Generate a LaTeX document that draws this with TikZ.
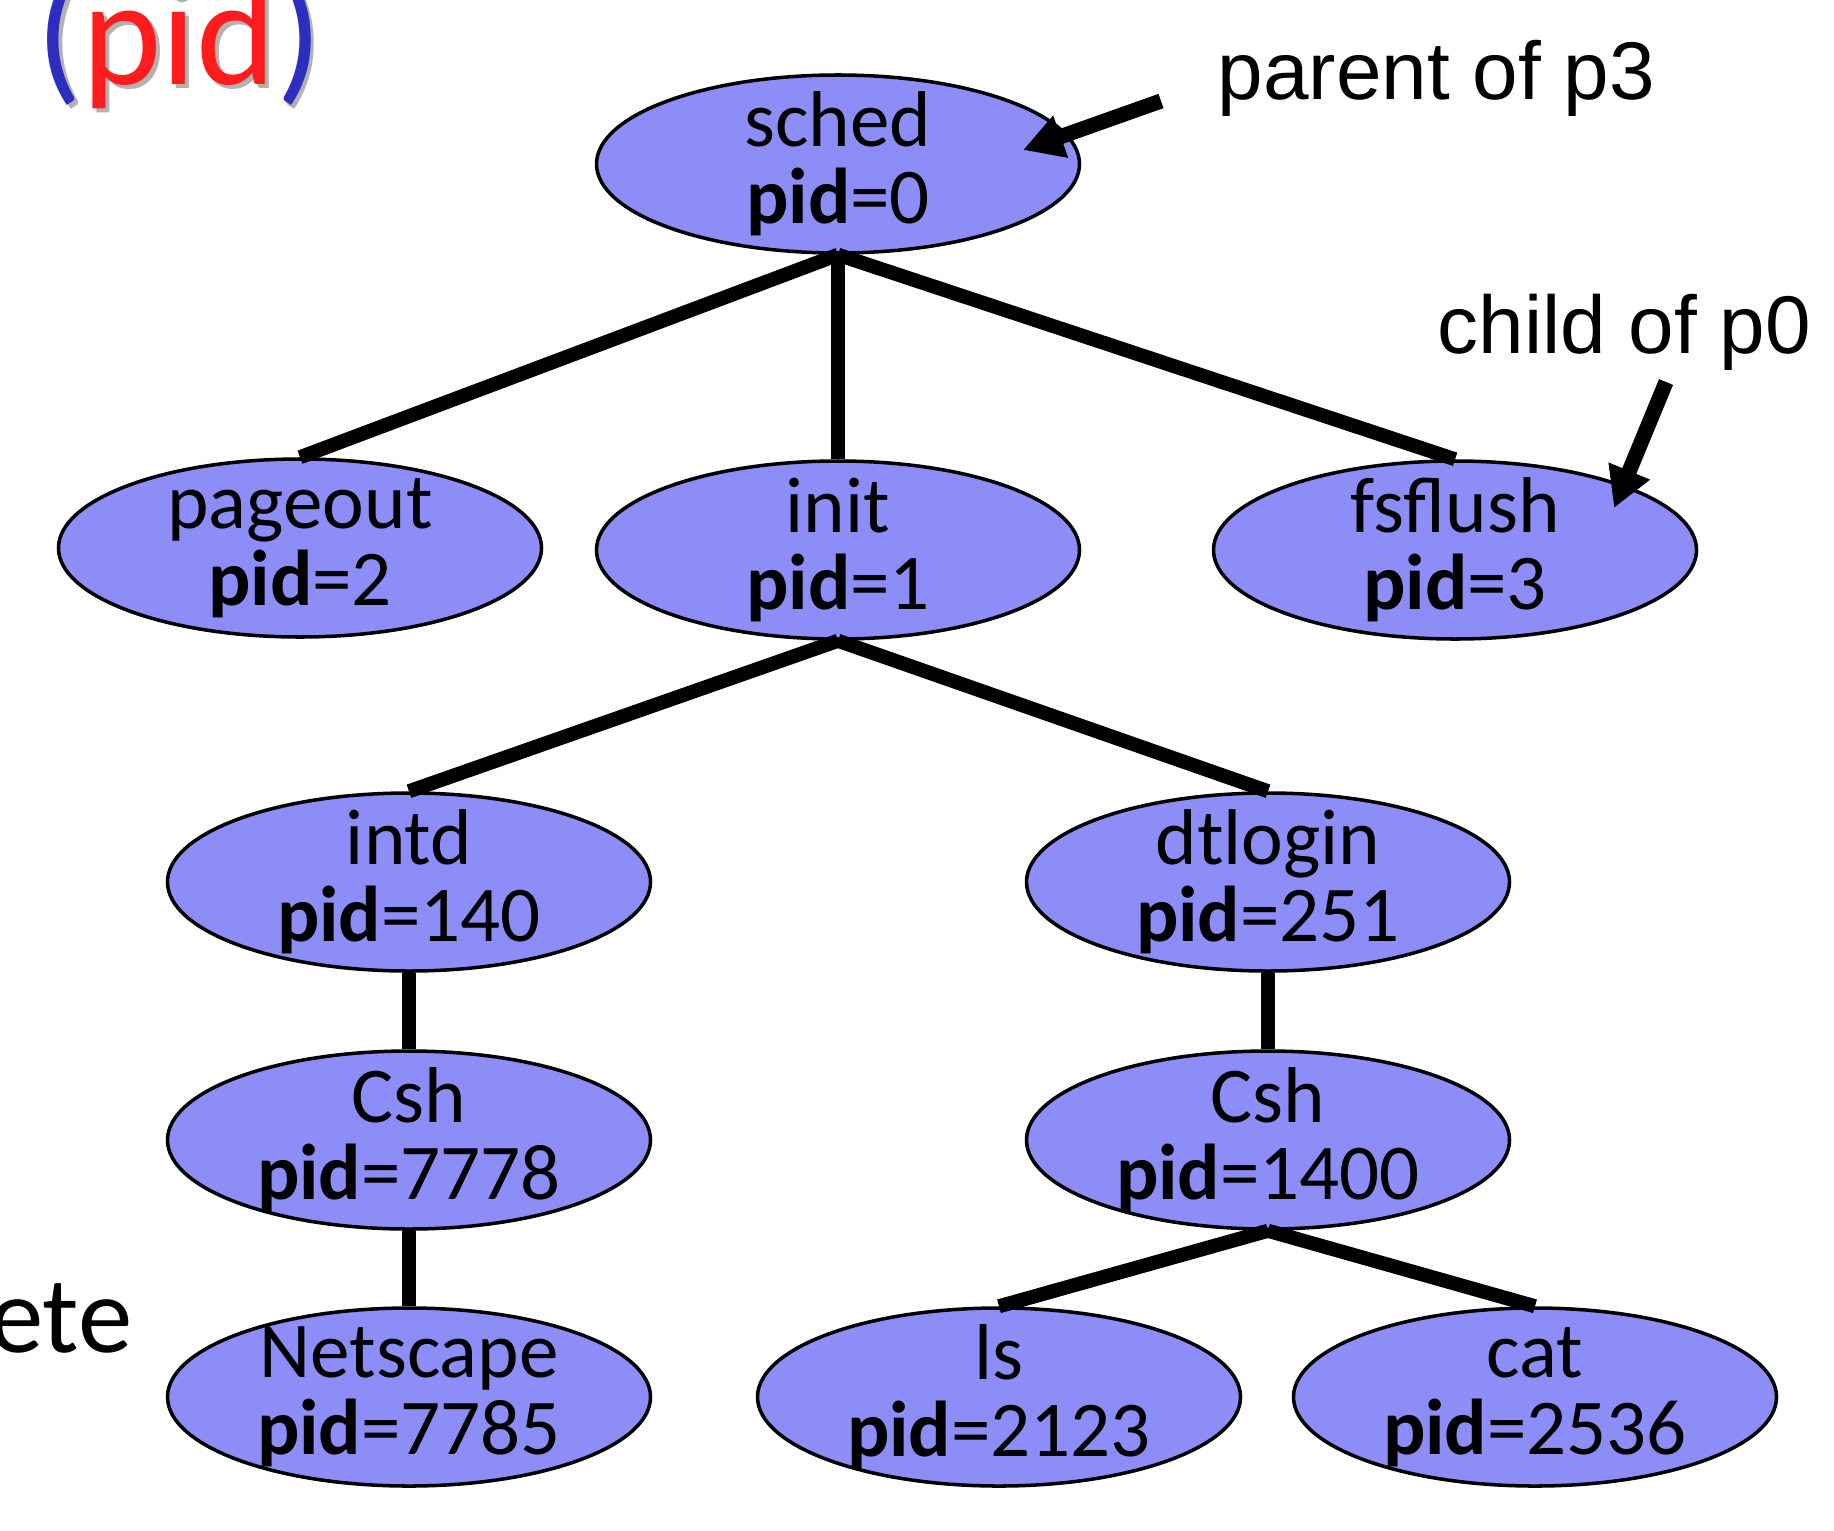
\documentclass[tikz,border=0pt]{standalone}
\usepackage{fontspec}
\setmainfont{Carlito}
\newfontfamily\arialfont{Liberation Sans}
\usepackage{tkz-euclide}
\usetikzlibrary{shapes.geometric,arrows.meta}
\definecolor{procblue}{RGB}{141,141,248}
\definecolor{parenblue}{RGB}{46,46,190}
\definecolor{pidred}{RGB}{255,28,28}

\begin{document}
\begin{tikzpicture}[
    proc/.style={ellipse, draw, line width=1pt, fill=procblue,
      minimum width=4.83cm, minimum height=1.78cm, inner xsep=0pt,
      inner ysep=-0.5cm, align=center, font=\fontsize{22.5}{22}\selectfont},
    tie/.style={line width=4pt},
    pointer/.style={line width=4.3pt, -{Triangle[length=0.4cm,width=0.42cm]}},
    note/.style={font=\arialfont\fontsize{23.3}{26}\selectfont, inner sep=0pt, anchor=base west}]
    \useasboundingbox (0,0) rectangle (18.34,-15.30);
    \tkzDefPoints{8.38/-1.64/S, 3.00/-5.48/P, 8.38/-5.50/I, 14.55/-5.50/F}
    \tkzDefPoints{4.09/-8.82/T, 12.68/-8.82/D, 4.09/-11.40/A, 12.68/-11.40/B}
    \tkzDefPoints{4.09/-13.97/N, 9.99/-13.97/L, 15.35/-13.97/C}
    % title cut by the top edge
    \node[anchor=base west, inner sep=0pt, text=black!30, font=\fontsize{43}{48}\selectfont] (pidshade) at (0.40,-0.89) {(pid)};
    \node[anchor=base west, inner sep=0pt, font=\fontsize{43}{48}\selectfont] (pidtitle) at (0.36,-0.85)
      {\textcolor{parenblue}{(}\textcolor{pidred}{pid}\textcolor{parenblue}{)}};
    \node[anchor=base east, inner sep=0pt, font=\fontsize{31}{36}\selectfont] (etenote) at (1.33,-13.52) {ete};
    \node[proc] (sched) at (S) {sched\\\textbf{pid}=0};
    \node[proc] (pageout) at (P) {pageout\\\textbf{pid}=2};
    \node[proc] (init) at (I) {init\\\textbf{pid}=1};
    \node[proc] (fsflush) at (F) {fsflush\\\textbf{pid}=3};
    \node[proc] (intd) at (T) {intd\\\textbf{pid}=140};
    \node[proc] (dtlogin) at (D) {dtlogin\\\textbf{pid}=251};
    \node[proc] (cshA) at (A) {Csh\\\textbf{pid}=7778};
    \node[proc] (cshB) at (B) {Csh\\\textbf{pid}=1400};
    \node[proc] (netscape) at (N) {Netscape\\\textbf{pid}=7785};
    \node[proc] (ls) at (L) {ls\\\textbf{pid}=2123};
    \node[proc] (cat) at (C) {cat\\\textbf{pid}=2536};
    \draw[tie] (sched.south) -- (pageout.north);
    \draw[tie] (sched.south) -- (init.north);
    \draw[tie] (sched.south) -- (fsflush.north);
    \draw[tie] (init.south) -- (intd.north);
    \draw[tie] (init.south) -- (dtlogin.north);
    \draw[tie] (intd.south) -- (cshA.north);
    \draw[tie] (cshA.south) -- (netscape.north);
    \draw[tie] (dtlogin.south) -- (cshB.north);
    \draw[tie] (cshB.south) -- (ls.north);
    \draw[tie] (cshB.south) -- (cat.north);
    % notes
    \node[note] (parentnote) at (12.17,-1.00) {parent of p3};
    \node[note] (childnote) at (14.37,-3.53) {child of p0};
    \coordinate (ptail) at (11.61,-1.01);
    \coordinate (ptip) at (10.23,-1.50);
    \coordinate (ctail) at (16.66,-3.82);
    \coordinate (ctip) at (16.14,-5.08);
    \draw[pointer] (ptail) -- (ptip);
    \draw[pointer] (ctail) -- (ctip);
\end{tikzpicture}
\end{document}
